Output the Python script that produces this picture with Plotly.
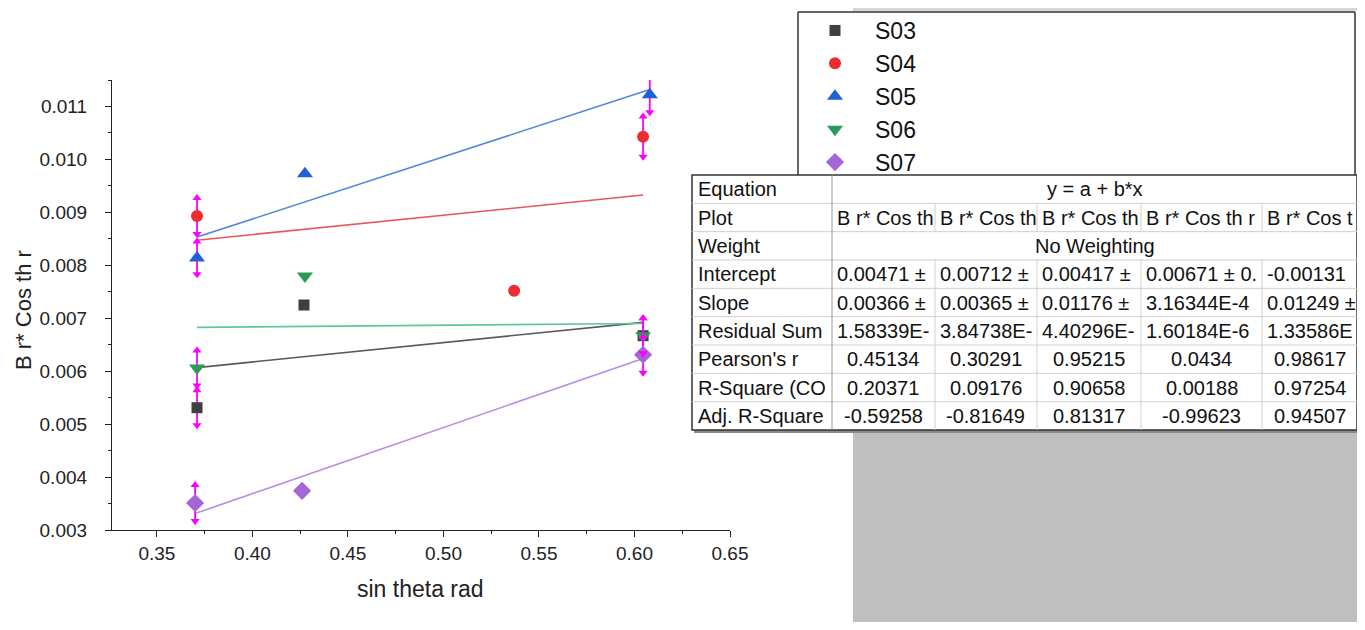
import plotly.graph_objects as go

# ---------------- data ----------------
series_names = ["S03", "S04", "S05", "S06", "S07"]
x_S03 = [0.371, 0.427, 0.6045]
y_S03 = [0.00531, 0.00725, 0.00667]
e_S03 = [0.00033, None, 0.00033]
x_S04 = [0.371, 0.537, 0.6045]
y_S04 = [0.00893, 0.00752, 0.01043]
e_S04 = [0.00034, None, 0.00038]
x_S05 = [0.371, 0.4275, 0.608]
y_S05 = [0.00814, 0.00973, 0.01122]
e_S05 = [0.00031, None, 0.00033]
x_S06 = [0.371, 0.4275, 0.6045]
y_S06 = [0.00606, 0.00780, 0.00667]
e_S06 = [0.00033, None, 0.00033]
x_S07 = [0.370, 0.426, 0.6045]
y_S07 = [0.00351, 0.00374, 0.00631]
e_S07 = [0.00034, None, 0.00034]

intercepts = [0.00471, 0.00712, 0.00417, 0.00671, -0.00131]
slopes = [0.00366, 0.00365, 0.01176, 3.16344e-4, 0.01249]

x_ticks = [0.35, 0.40, 0.45, 0.50, 0.55, 0.60, 0.65]
y_ticks = [0.003, 0.004, 0.005, 0.006, 0.007, 0.008, 0.009, 0.010, 0.011]

row_labels = ["Equation", "Plot", "Weight", "Intercept", "Slope", "Residual Sum",
              "Pearson's r", "R-Square (CO", "Adj. R-Square"]
equation_text = "y = a + b*x"
weight_text = "No Weighting"
plot_row = ["B r* Cos th", "B r* Cos th", "B r* Cos th", "B r* Cos th r", "B r* Cos t"]
intercept_row = ["0.00471 \u00b1", "0.00712 \u00b1", "0.00417 \u00b1", "0.00671 \u00b1 0.", "-0.00131"]
slope_row = ["0.00366 \u00b1", "0.00365 \u00b1", "0.01176 \u00b1", "3.16344E-4", "0.01249 \u00b1"]
resid_row = ["1.58339E-", "3.84738E-", "4.40296E-", "1.60184E-6", "1.33586E"]
pearson_row = ["0.45134", "0.30291", "0.95215", "0.0434", "0.98617"]
rsq_row = ["0.20371", "0.09176", "0.90658", "0.00188", "0.97254"]
adj_row = ["-0.59258", "-0.81649", "0.81317", "-0.99623", "0.94507"]

# ---------------- styles ----------------
OFF = 8                      # page body margin
W, H = 1365 - 2 * OFF, 630 - 2 * OFF
FONT = "Liberation Sans, Arial, sans-serif"
marker_colors = ["#3f3f3f", "#ec2c2f", "#1f60d8", "#2c9a57", "#a566d8"]
line_colors = ["#5a5a5a", "#e8585b", "#4f88d8", "#62c893", "#b88ee2"]
symbols = ["square", "circle", "triangle-up", "triangle-down", "diamond"]
sizes = [11, 12, 14, 14, 14]
ERR = "#ff00ff"


def px(x):
    return (x - OFF) / W


def py(y):
    return 1 - (y - OFF) / H


xs = [x_S03, x_S04, x_S05, x_S06, x_S07]
ys = [y_S03, y_S04, y_S05, y_S06, y_S07]
es = [e_S03, e_S04, e_S05, e_S06, e_S07]

fig = go.Figure()

# fit lines y = a + b*x
for i in range(5):
    xmin, xmax = min(xs[i]), max(xs[i])
    fig.add_trace(go.Scatter(
        x=[xmin, xmax],
        y=[intercepts[i] + slopes[i] * xmin, intercepts[i] + slopes[i] * xmax],
        mode="lines", line=dict(color=line_colors[i], width=1.6),
        showlegend=False, hoverinfo="skip"))

# data points with error bars
for i in range(5):
    fig.add_trace(go.Scatter(
        x=xs[i], y=ys[i], mode="markers", name=series_names[i],
        marker=dict(color=marker_colors[i], symbol=symbols[i], size=sizes[i]),
        error_y=dict(type="data", array=es[i], symmetric=True, color=ERR,
                     thickness=1.8, width=0, visible=True)))

# arrowheads at error bar ends
for i in range(5):
    up_x, up_y, dn_x, dn_y = [], [], [], []
    for x, y, e in zip(xs[i], ys[i], es[i]):
        if e is None:
            continue
        up_x.append(x); up_y.append(y + e)
        dn_x.append(x); dn_y.append(y - e)
    fig.add_trace(go.Scatter(x=up_x, y=up_y, mode="markers", showlegend=False,
                             marker=dict(symbol="triangle-up", size=8, color=ERR),
                             hoverinfo="skip"))
    fig.add_trace(go.Scatter(x=dn_x, y=dn_y, mode="markers", showlegend=False,
                             marker=dict(symbol="triangle-down", size=8, color=ERR),
                             hoverinfo="skip"))

axis_common = dict(showline=True, linecolor="#222", linewidth=1.2, ticks="outside",
                   ticklen=6, tickwidth=1.2, tickcolor="#222", showgrid=False,
                   zeroline=False, automargin=False,
                   tickfont=dict(family=FONT, size=19, color="#222"))

fig.update_layout(
    width=W, height=H,
    margin=dict(l=0, r=0, t=0, b=0),
    paper_bgcolor="white", plot_bgcolor="white",
    xaxis=dict(domain=[px(112), px(730)], range=[0.3265, 0.65],
               tickvals=x_ticks, ticktext=[f"{v:.2f}" for v in x_ticks],
               ticklabelstandoff=0,
               minor=dict(ticks="outside", ticklen=3, tickcolor="#222", tickwidth=1,
                          dtick=0.025, tick0=0.325),
               **axis_common),
    yaxis=dict(domain=[py(530), py(80)], range=[0.003, 0.0115],
               tickvals=y_ticks, ticktext=[f"{v:.3f}" for v in y_ticks],
               ticklabelstandoff=14,
               minor=dict(ticks="outside", ticklen=3, tickcolor="#222", tickwidth=1,
                          dtick=0.0005, tick0=0.0025),
               **axis_common),
    legend=dict(x=px(795), y=py(9), xanchor="left", yanchor="top",
                bgcolor="rgba(0,0,0,0)", borderwidth=0, itemwidth=70,
                font=dict(family=FONT, size=23, color="#111"),
                itemclick=False, itemdoubleclick=False),
    showlegend=True,
)

shapes = []
annotations = []

# axis titles
annotations.append(dict(x=px(420), y=py(589), xref="paper", yref="paper",
                        xanchor="center", yanchor="middle",
                        text="sin theta rad", showarrow=False,
                        font=dict(family=FONT, size=23, color="#222")))
annotations.append(dict(x=px(23), y=py(310), xref="paper", yref="paper",
                        xanchor="center", yanchor="middle",
                        text="B r* Cos th r", showarrow=False, textangle=-90,
                        font=dict(family=FONT, size=22, color="#222")))

# gray background pieces
shapes.append(dict(type="rect", xref="paper", yref="paper", x0=px(853), x1=px(1365),
                   y0=py(630), y1=py(430), fillcolor="#bfbfbf", line=dict(width=0), layer="below"))
shapes.append(dict(type="rect", xref="paper", yref="paper", x0=px(853), x1=px(1365),
                   y0=py(11), y1=py(8), fillcolor="#d6d6d6", line=dict(width=0), layer="below"))

# legend frame (partly hidden behind the table)
LB = dict(color="#333", width=1.5)
shapes.append(dict(type="line", xref="paper", yref="paper", x0=px(798), x1=px(1355),
                   y0=py(12), y1=py(12), line=LB))
shapes.append(dict(type="line", xref="paper", yref="paper", x0=px(798), x1=px(798),
                   y0=py(12), y1=py(175), line=LB))
shapes.append(dict(type="line", xref="paper", yref="paper", x0=px(1355), x1=px(1355),
                   y0=py(12), y1=py(175), line=LB))

# table geometry
tx0, tx1, ty0, ty1 = 692, 1357, 175, 430
col_edges = [692, 832, 935, 1037, 1141, 1262, 1357]
nrows = len(row_labels)
rh = (ty1 - ty0) / nrows
row_edges = [ty0 + k * rh for k in range(nrows + 1)]

shapes.append(dict(type="rect", xref="paper", yref="paper", x0=px(tx0 + 2), x1=px(tx1 + 2),
                   y0=py(ty1 + 3), y1=py(ty0 + 2), fillcolor="#8a8a8a", line=dict(width=0)))
shapes.append(dict(type="rect", xref="paper", yref="paper", x0=px(tx0), x1=px(tx1),
                   y0=py(ty1), y1=py(ty0), fillcolor="white", line=dict(color="#333", width=1.5)))
GL = dict(color="#cfcfcf", width=1)
for k in range(1, nrows):
    shapes.append(dict(type="line", xref="paper", yref="paper", x0=px(tx0), x1=px(tx1),
                       y0=py(row_edges[k]), y1=py(row_edges[k]), line=GL))
shapes.append(dict(type="line", xref="paper", yref="paper", x0=px(col_edges[1]), x1=px(col_edges[1]),
                   y0=py(ty0), y1=py(ty1), line=dict(color="#9a9a9a", width=1)))
merged_rows = {0, 2}
for c in range(2, len(col_edges) - 1):
    for r in range(nrows):
        if r in merged_rows:
            continue
        shapes.append(dict(type="line", xref="paper", yref="paper", x0=px(col_edges[c]),
                           x1=px(col_edges[c]), y0=py(row_edges[r]), y1=py(row_edges[r + 1]), line=GL))

TF = dict(family=FONT, size=20, color="#111")


def cell_text(txt, r, c, align):
    yc = (row_edges[r] + row_edges[r + 1]) / 2
    if align == "left":
        annotations.append(dict(x=px(col_edges[c] + 3), y=py(yc), xref="paper", yref="paper",
                                xanchor="left", yanchor="middle", text=txt, showarrow=False, font=TF))
    else:
        xc = (col_edges[c] + col_edges[c + 1]) / 2
        annotations.append(dict(x=px(xc), y=py(yc), xref="paper", yref="paper",
                                xanchor="center", yanchor="middle", text=txt, showarrow=False, font=TF))


for r, lab in enumerate(row_labels):
    yc = (row_edges[r] + row_edges[r + 1]) / 2
    annotations.append(dict(x=px(tx0 + 4), y=py(yc), xref="paper", yref="paper",
                            xanchor="left", yanchor="middle", text=lab, showarrow=False, font=TF))

mid_merged = (col_edges[1] + col_edges[-1]) / 2
for r, txt in [(0, equation_text), (2, weight_text)]:
    yc = (row_edges[r] + row_edges[r + 1]) / 2
    annotations.append(dict(x=px(mid_merged), y=py(yc), xref="paper", yref="paper",
                            xanchor="center", yanchor="middle", text=txt, showarrow=False, font=TF))

for c in range(5):
    cell_text(plot_row[c], 1, c + 1, "left")
    cell_text(intercept_row[c], 3, c + 1, "left")
    cell_text(slope_row[c], 4, c + 1, "left")
    cell_text(resid_row[c], 5, c + 1, "left")
    cell_text(pearson_row[c], 6, c + 1, "center")
    cell_text(rsq_row[c], 7, c + 1, "center")
    cell_text(adj_row[c], 8, c + 1, "center")

fig.update_layout(shapes=shapes, annotations=annotations)
fig.write_html("out.html")
